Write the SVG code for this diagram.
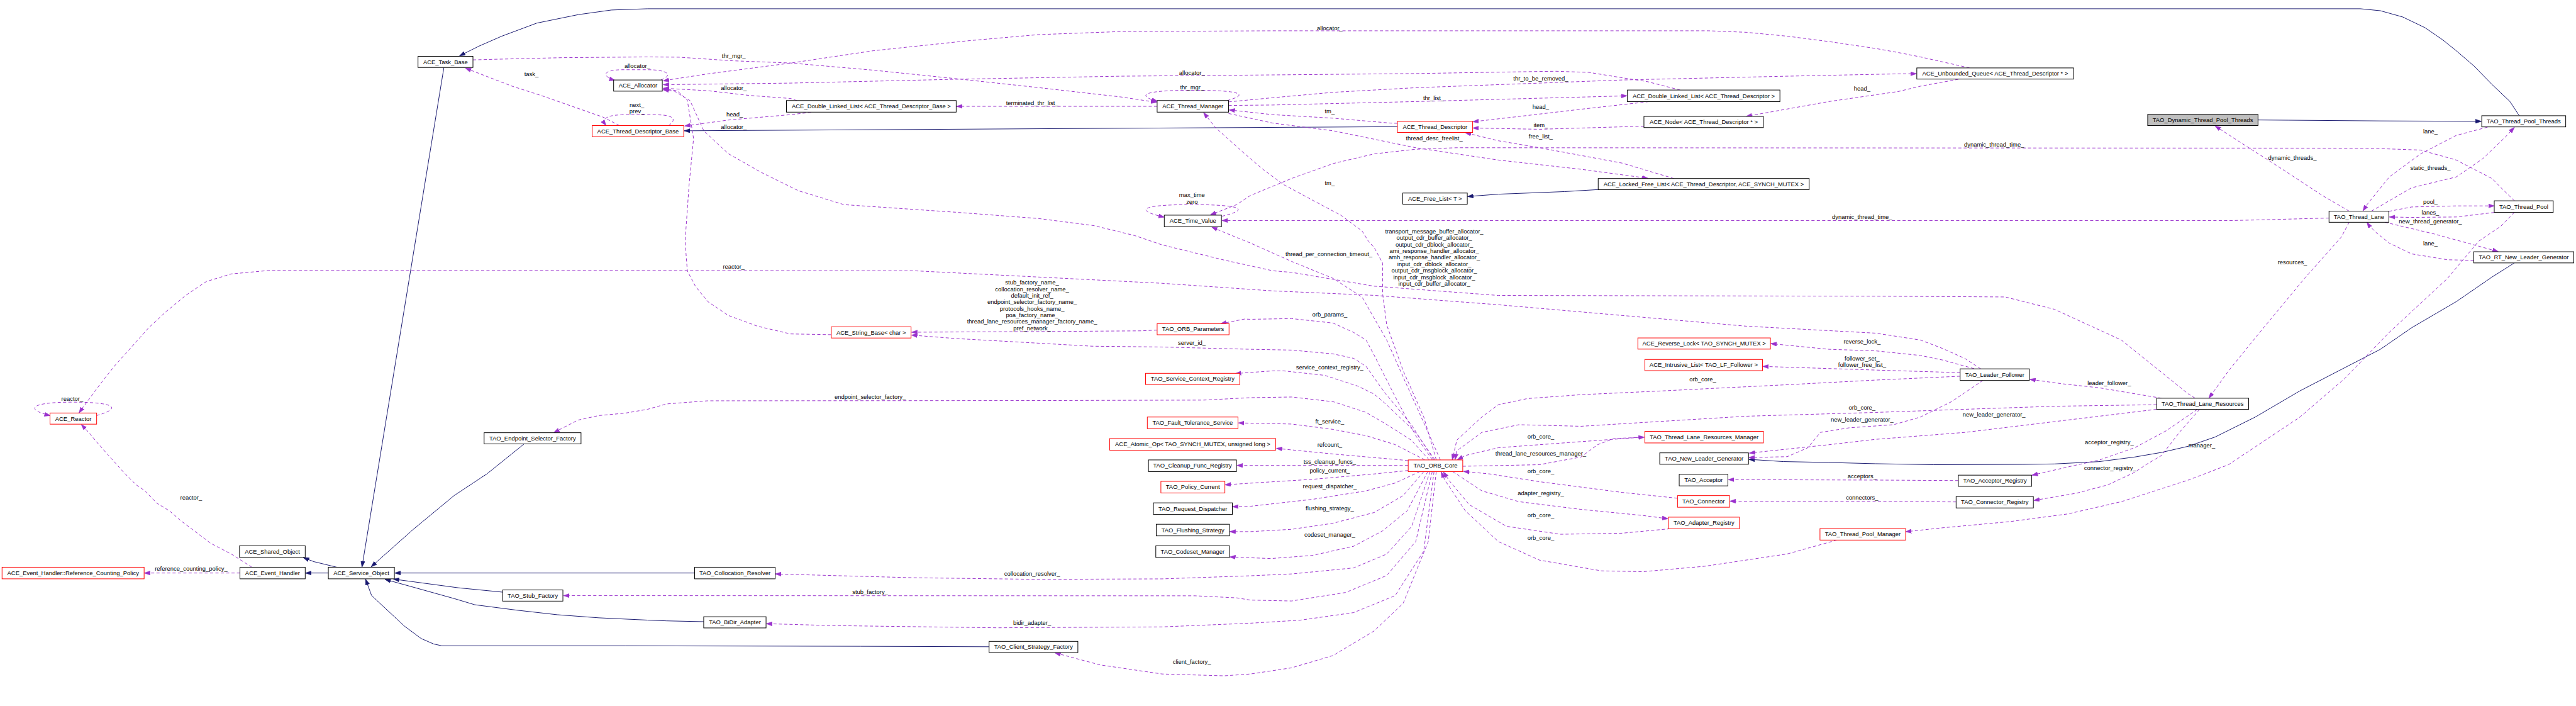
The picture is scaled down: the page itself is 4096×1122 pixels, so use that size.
<svg xmlns="http://www.w3.org/2000/svg" width="4096" height="1122" viewBox="0 0 4096 1122">
<style>
.n rect{fill:#fff;stroke:#000;stroke-width:1.4}
.n.r rect{stroke:#f00}
.n.g rect{fill:#bfbfbf}
text{font-family:"Liberation Sans",Arial,sans-serif;font-size:13.3px;fill:#000;text-anchor:middle}
.d{fill:none;stroke:#9a32cd;stroke-width:1.4;stroke-dasharray:7,5;marker-end:url(#ap)}
.s{fill:none;stroke:#191970;stroke-width:1.4;marker-end:url(#an)}
</style>
<defs>
<marker id="ap" markerUnits="userSpaceOnUse" viewBox="0 0 14 10" markerWidth="14" markerHeight="10" refX="13" refY="5" orient="auto"><path d="M0,0.5 L13,5 L0,9.5 z" fill="#9a32cd" stroke="#9a32cd" stroke-width="1"/></marker>
<marker id="an" markerUnits="userSpaceOnUse" viewBox="0 0 14 10" markerWidth="14" markerHeight="10" refX="13" refY="5" orient="auto"><path d="M0,0.5 L13,5 L0,9.5 z" fill="#191970" stroke="#191970" stroke-width="1"/></marker>
</defs>
<rect width="4096" height="1122" fill="#fff"/>
<g transform="scale(0.71012)">
<g id="edges">
<path class="s" d="M5641,259 L5620,227 L5580,189 L5540,148 L5500,113.6 L5470,89.5 L5430,62 L5380,38 L5330,24 L5285,19.6 L1450,19.6 L1369,22.4 L1295,32.7 L1202,51.7 L1123.5,81 L1073,103 L1029,125"/>
<path class="s" d="M5056,268.5 L5125,269 L5330,270.6 L5556,271.5"/>
<path class="s" d="M994,151 L810.5,1269"/>
<path class="s" d="M3129,283.5 L1532,292.7"/>
<path class="s" d="M3578.6,424.3 L3503,428.8 L3355,434.6 L3286,439.8"/>
<path class="s" d="M5630,588.5 L5580,620 L5500,675 L5400,733.5 L5330,781.7 L5250,823 L5150,874.7 L5050,933.3 L4960,978 L4900,998.7 L4840,1012.5 L4780,1022.8 L4700,1033.1 L4600,1038.3 L4530,1039.3 L4330,1040 L4200,1037.8 L4095,1035 L3993,1033 L3916,1028"/>
<path class="s" d="M735.2,1282.4 L684,1282.4"/>
<path class="s" d="M754,1269.4 L703,1257 L679,1248"/>
<path class="s" d="M1174,993.2 L1091,1060 L1017,1109 L925,1185 L831,1268.5"/>
<path class="s" d="M1555.4,1282.4 L884,1282.4"/>
<path class="s" d="M1125.4,1325.2 L1026.4,1315.5 L881,1296"/>
<path class="s" d="M1575.7,1391.3 L1492.5,1389.5 L1450,1387.8 L1341,1382.7 L1248,1375.8 L1156,1365.4 L1063,1353.4 L1017,1339.6 L943,1319 L862,1296.5"/>
<path class="s" d="M2214.7,1447.4 L1927,1446.4 L1400,1445.3 L989.5,1445.3 L971,1441.2 L943,1429 L906,1401.6 L869,1367.2 L832,1332.7 L818.5,1296"/>

<path class="d" d="M1387,281 L1350,262 L1211,213.5 L1147,193 L1042,152.5"/>
<path class="d" d="M1059,134 L1110,132.6 L1258,129.1 L1450,127.4 L1520,128 L1640,136 L1770,141 L1955,157 L2140,176 L2325,196 L2510,217 L2590,229"/>
<path class="d" d="M2748,225 C2795,212 2785,202 2670,202 C2555,202 2545,214 2592,227"/>
<path class="d" d="M1480,179 C1510,167 1492,156 1450,156 L1392,156 C1345,157 1350,172 1377,180"/>
<path class="d" d="M1497,281 C1516,268 1510,257 1470,257 L1392,257 C1350,258 1349,270 1357,281"/>
<path class="d" d="M1784,225 L1770,220.4 L1677,213.5 L1585,203 L1485,197.5"/>
<path class="d" d="M1816,251.4 L1770,256.6 L1631,268.6 L1533,282"/>
<path class="d" d="M2591,238 L2142,238"/>
<path class="d" d="M4410,152 L4300,127.4 L4250,117.5 L4200,108.5 L4095,93 L4002,81 L3910,72.3 L3826,68.9 L2850,68.9 L2510,70.6 L2325,77.5 L2167,91.3 L1955,113.6 L1770,141.2 L1585,165.3 L1506,177.4 L1485,181"/>
<path class="d" d="M3762,201.5 L3688,182.5 L3632,174 L3558,162 L3484,159.5 L3447,160 L3170,164.6 L2800,168.1 L2510,170.5 L2140,177.4 L1770,186 L1485,189.5"/>
<path class="d" d="M2751,228 L2850,218.7 L2985,206.6 L3170,196.3 L3447,186 L3632,179 L4002,170.5 L4250,165.3 L4291,165"/>
<path class="d" d="M2751,236 L2850,235 L3170,227.3 L3643,214.5"/>
<path class="d" d="M3129,276 L3114,275.5 L2985,264.5 L2850,256.6 L2752,246"/>
<path class="d" d="M2751,254 L2850,275.5 L2985,292.7 L3170,330.6 L3355,358.2 L3540,378.8 L3690,399"/>
<path class="d" d="M3692,227.5 L3540,244.5 L3392,261.7 L3298,272.5"/>
<path class="d" d="M3681,282.4 L3447,289.3 L3355,287.6 L3298,286.5"/>
<path class="d" d="M3748,399.5 L3632,365 L3447,330.6 L3355,315 L3281,297"/>
<path class="d" d="M4385,177.4 L4300,192.9 L4250,204.9 L4095,227.3 L3910,260.4"/>
<path class="d" d="M5260,472.5 L5200,437.4 L5100,371.9 L5030,327.2 L4960,282"/>
<path class="d" d="M5570,284.5 L5500,303 L5420,344.4 L5350,396 L5300,458 L5291,472"/>
<path class="d" d="M5310,472.5 L5400,420.2 L5500,396 L5560,354.7 L5610,306.5 L5630,285"/>
<path class="d" d="M5630,449.4 L5600,420 L5580,399.5 L5500,358.2 L5420,335.8 L5300,331.6 L3262,330.6 L3170,334 L3077,344.4 L2985,366 L2892,399.5 L2800,437.4 L2769,458 L2710,481"/>
<path class="d" d="M5215,488 L5070,491.8 L5000,493.5 L2736,493.5"/>
<path class="d" d="M2736,484 C2795,470 2790,458 2667,458 C2545,458 2545,472 2607,486"/>
<path class="d" d="M5349,473 L5400,463.2 L5500,460.8 L5585,460.8"/>
<path class="d" d="M5585,475.5 L5500,485.6 L5400,486.6 L5350,485.6"/>
<path class="d" d="M5340,497.3 L5450,523.5 L5500,537.2 L5594,563"/>
<path class="d" d="M5539,582.7 L5480,581.3 L5400,568.2 L5350,544.1 L5320,520 L5305,505 L5300,497.5"/>
<path class="d" d="M5260,497.3 L5243,530 L5160,623.3 L5060,743.8 L4990,830 L4946,891"/>
<path class="d" d="M5630,475.3 L5600,506 L5550,540 L5480,623.3 L5350,743.8 L5250,847.2 L5150,933.3 L5050,1000 L4990,1040 L4900,1074.4 L4750,1122.7 L4630,1150.2 L4500,1167.4 L4350,1181.2 L4267,1190"/>
<path class="d" d="M4840,891.2 L4700,867.8 L4620,859.2 L4545,849"/>
<path class="d" d="M4829,916 L4600,943.6 L4400,967.7 L4200,983.2 L4095,995.3 L3917,1014"/>
<path class="d" d="M4440,851.3 L4370,898.8 L4300,933.3 L4240,950.5 L4141,957.4 L4076,967.7 L4048,1002 L4002,1022 L3916,1024"/>
<path class="d" d="M4389,842 L4200,850.6 L4002,861 L3725,874.7 L3540,883.3 L3420,892 L3355,905.7 L3318,933.3 L3262,985 L3252,1029"/>
<path class="d" d="M4420,825 L4350,805.8 L4300,795.5 L4200,785.2 L4095,781.7 L3965,769"/>
<path class="d" d="M4389,834 L4200,828.2 L3947,820"/>
<path class="d" d="M4435,825.5 L4400,802.4 L4350,780 L4300,761 L4200,745.6 L3910,730 L3632,706 L3355,682 L3077,661 L2850,651 L2602,634 L2325,620 L2047,606 L1400,605.4 L601,605.4 L518,613 L462,630 L416,661 L370,699 L333,733.5 L296,775 L259,816 L231,851 L213,875 L185,912.6 L177,924"/>
<path class="d" d="M216,930 C270,915 265,900 162,900 C60,900 60,918 112.5,930"/>
<path class="d" d="M564,1269.4 L518,1240 L472,1216 L435,1188 L407,1167 L379,1143 L351,1126 L324,1098 L305,1085 L277,1057 L259,1037 L240,1016 L213,985 L199,968 L182,950"/>
<path class="d" d="M537.3,1282.4 L323,1282.4"/>
<path class="d" d="M1861,749 L1770,747.3 L1696,730 L1631,706 L1585,675 L1557,640.5 L1539,606 L1534,540 L1543,413 L1553,310 L1539,224 L1516,203 L1485,199"/>
<path class="d" d="M4915,891 L4900,881.6 L4750,761 L4600,692.2 L4490,664.6 L4200,662.9 L3355,661.2 L3077,640.5 L2892,609.5 L2850,606 L2741,582 L2602,548 L2540,527 L2450,505 L2325,489 L2140,475 L1890,458 L1788,427 L1705,386 L1631,344 L1576,293 L1545,225 L1510,204 L1485,201"/>
<path class="d" d="M3225,1029 L3198,968 L3151,864 L3105,761 L3050,665 L2985,623 L2892,585 L2800,544 L2741,520 L2713,508"/>
<path class="d" d="M3216,1029 L3188,933 L3142,830 L3105,727 L3096,658 L3096,589 L3077,554 L3064,540 L3050,517 L3003,482 L2939,448 L2874,413 L2828,379 L2787,344 L2722,286 L2695,252"/>
<path class="d" d="M3207,1029 L3170,975 L3120,880 L3077,795 L3059,761 L3031,744 L2985,723 L2892,713 L2800,714.6 L2787,714 L2733,724.5"/>
<path class="d" d="M3210,1029 L3160,950 L3100,878 L3059,820 L3031,802 L2985,792 L2892,783.5 L2800,781.7 L2602,776.6 L2445,774.8 L2325,768 L2140,757.6 L2041,750"/>
<path class="d" d="M2591,738.7 L2556,740.4 L2325,742 L2041,743.5"/>
<path class="d" d="M3213,1029 L3170,968 L3130,930 L3105,906 L3077,882 L3040,864 L2966,840 L2874,830 L2850,830 L2766,836"/>
<path class="d" d="M3200,1029 L3160,985 L3105,950 L3059,923 L2985,899 L2892,888.5 L2800,890 L2695,895.4 L2325,896.4 L1585,897 L1492.5,904 L1450,916 L1400,924.6 L1341,930 L1295,940 L1240,968"/>
<path class="d" d="M3190,1029 L3124,995 L3059,975 L2985,961 L2892,949 L2800,947 L2773,946.5"/>
<path class="d" d="M3153,1031 L3142,1029.7 L2985,1016 L2858,1003.5"/>
<path class="d" d="M3153,1041.7 L2769.5,1041.7"/>
<path class="d" d="M3153,1053 L3077,1060.7 L2939,1072.7 L2800,1081.3 L2743,1085"/>
<path class="d" d="M3179,1055.5 L3124,1081 L3059,1098.5 L2939,1117.5 L2800,1133 L2760,1134"/>
<path class="d" d="M3188,1055.5 L3142,1109 L3077,1147 L2985,1171 L2892,1184.6 L2800,1189.8 L2753.5,1189.8"/>
<path class="d" d="M3197,1055.5 L3151,1143 L3096,1188 L3031,1222.5 L2939,1243 L2846,1250 L2753.5,1246.5"/>
<path class="d" d="M3202,1055.5 L3161,1178 L3105,1240 L3031,1271 L2892,1284.5 L2800,1288.6 L2602,1295.5 L2325,1296.6 L2047,1293 L1862,1288 L1736,1284.5"/>
<path class="d" d="M3207,1055.5 L3170,1212 L3105,1288 L3013,1326 L2892,1345 L2800,1343 L2769,1338 L2676,1333.4 L1262,1333"/>
<path class="d" d="M3211,1055.5 L3188,1233 L3124,1333 L3031,1371 L2911,1388 L2800,1394.7 L2602,1403 L2232,1405 L1862,1400 L1716,1395.8"/>
<path class="d" d="M3216,1055.5 L3198,1212 L3142,1350 L3077,1412 L2985,1467 L2892,1494.6 L2800,1508.4 L2741,1512.5 L2602,1508.4 L2463,1488 L2362,1461"/>
<path class="d" d="M4829,905.7 L4600,909.2 L4400,916 L4200,923 L3910,931.5 L3540,954 L3401,950.5 L3318,967.7 L3262,1009 L3258,1029"/>
<path class="d" d="M3683,978 L3540,988.4 L3355,1002 L3281,1019.4 L3263,1029"/>
<path class="d" d="M3275.3,1043.5 L3447,1040 L3540,1022.8 L3577,995.3 L3614,981.5 L3682,978.5"/>
<path class="d" d="M3756,1115 L3632,1102 L3447,1078 L3336,1060.7 L3277,1055"/>
<path class="d" d="M3253,1055.5 L3318,1098.5 L3401,1122.7 L3540,1140 L3678.5,1153.6 L3735,1161"/>
<path class="d" d="M3740,1183.3 L3632,1193.3 L3494,1195.7 L3373,1177.8 L3290,1129.5 L3244,1074.4 L3232,1056"/>
<path class="d" d="M4113,1208.7 L4002,1239.7 L3817,1267.3 L3678.5,1279.4 L3586,1277.6 L3447,1253.5 L3355,1212 L3281,1143 L3235,1074 L3227,1056"/>
<path class="d" d="M4385,1075.5 L4200,1074.4 L3870,1073.4"/>
<path class="d" d="M4380,1123.3 L4260,1122.7 L4200,1122 L3873.5,1121.6"/>
<path class="d" d="M4920,916.4 L4850,964.3 L4780,1002 L4700,1029.7 L4645,1041.7 L4550,1063.5"/>
<path class="d" d="M4925,916.4 L4880,967.7 L4840,1019.4 L4805,1040 L4780,1057 L4720,1085 L4650,1103.7 L4554,1120"/>
</g>
<g id="edge-labels">
<text x="1190" y="170">task_</text>
<text x="1427" y="152.7">allocator_</text>
<text x="1426" y="239.9">next_</text>
<text x="1426" y="253.3">prev_</text>
<text x="1643" y="129.4">thr_mgr_</text>
<text x="1643" y="201.7">allocator_</text>
<text x="1645" y="260.2">head_</text>
<text x="1643" y="288.1">allocator_</text>
<text x="2311" y="235.4">terminated_thr_list_</text>
<text x="2669" y="167.3">allocator_</text>
<text x="2669" y="200">thr_mgr_</text>
<text x="2669" y="440.3">max_time</text>
<text x="2669" y="455.8">zero</text>
<text x="2977.5" y="67.7">allocator_</text>
<text x="3450" y="180.7">thr_to_be_removed_</text>
<text x="3210" y="224.1">thr_list_</text>
<text x="3450" y="243.4">head_</text>
<text x="2977.5" y="253.7">tm_</text>
<text x="3450" y="284.3">item_</text>
<text x="3211.5" y="313.6">thread_desc_freelist_</text>
<text x="3450" y="309.5">free_list_</text>
<text x="4169.5" y="203.4">head_</text>
<text x="2977.5" y="413.8">tm_</text>
<text x="4169.5" y="489.6">dynamic_thread_time_</text>
<text x="3211.5" y="522">transport_message_buffer_allocator_</text>
<text x="3211.5" y="536.7">output_cdr_buffer_allocator_</text>
<text x="3211.5" y="551.4">output_cdr_dblock_allocator_</text>
<text x="3211.5" y="566.1">ami_response_handler_allocator_</text>
<text x="3211.5" y="580.8">amh_response_handler_allocator_</text>
<text x="3211.5" y="595.5">input_cdr_dblock_allocator_</text>
<text x="3211.5" y="610.2">output_cdr_msgblock_allocator_</text>
<text x="3211.5" y="624.9">input_cdr_msgblock_allocator_</text>
<text x="3211.5" y="639.6">input_cdr_buffer_allocator_</text>
<text x="2975.7" y="573.6">thread_per_connection_timeout_</text>
<text x="2977.5" y="707.9">orb_params_</text>
<text x="2977.5" y="826">service_context_registry_</text>
<text x="2977.5" y="947.3">ft_service_</text>
<text x="2977.5" y="1000">refcount_</text>
<text x="2977.5" y="1037.8">tss_cleanup_funcs_</text>
<text x="2977.5" y="1057.8">policy_current_</text>
<text x="4169.5" y="768.5">reverse_lock_</text>
<text x="4169.5" y="807.1">follower_set_</text>
<text x="4169.5" y="820.9">follower_free_list_</text>
<text x="3812.6" y="853.6">orb_core_</text>
<text x="4169.5" y="917.3">orb_core_</text>
<text x="4169.5" y="943.8">new_leader_generator_</text>
<text x="3450" y="981">orb_core_</text>
<text x="3450" y="1019.6">thread_lane_resources_manager_</text>
<text x="3450" y="1059.5">orb_core_</text>
<text x="2977.5" y="1092.9">request_dispatcher_</text>
<text x="2977.5" y="1141.8">flushing_strategy_</text>
<text x="2977.5" y="1200.7">codeset_manager_</text>
<text x="3450" y="1107.7">adapter_registry_</text>
<text x="3450" y="1157.7">orb_core_</text>
<text x="3450" y="1207.6">orb_core_</text>
<text x="4169.5" y="1069.8">acceptors_</text>
<text x="4169.5" y="1117.7">connectors_</text>
<text x="4725" y="1051.6">connector_registry_</text>
<text x="5442" y="548.8">lane_</text>
<text x="5133" y="591.9">resources_</text>
<text x="4723" y="861.5">leader_follower_</text>
<text x="4465" y="932.8">new_leader_generator_</text>
<text x="4723" y="993.7">acceptor_registry_</text>
<text x="4930" y="1001">manager_</text>
<text x="4465" y="328.4">dynamic_thread_time_</text>
<text x="5442" y="299.1">lane_</text>
<text x="5133" y="357.7">dynamic_threads_</text>
<text x="5442" y="380.8">static_threads_</text>
<text x="5442" y="455.8">pool_</text>
<text x="5442" y="480.6">lanes_</text>
<text x="5442" y="499.6">new_thread_generator_</text>
<text x="161.8" y="896.6">reactor_</text>
<text x="1643" y="601.8">reactor_</text>
<text x="2311" y="636.6">stub_factory_name_</text>
<text x="2311" y="651.4">collocation_resolver_name_</text>
<text x="2311" y="665.9">default_init_ref_</text>
<text x="2311" y="680.7">endpoint_selector_factory_name_</text>
<text x="2311" y="695.5">protocols_hooks_name_</text>
<text x="2311" y="710">poa_factory_name_</text>
<text x="2311" y="724.4">thread_lane_resources_manager_factory_name_</text>
<text x="2311" y="739.9">pref_network_</text>
<text x="2668.7" y="772">server_id_</text>
<text x="1948.4" y="892.5">endpoint_selector_factory_</text>
<text x="428" y="1117.7">reactor_</text>
<text x="428" y="1277.9">reference_counting_policy_</text>
<text x="2311" y="1288.5">collocation_resolver_</text>
<text x="1948.4" y="1329.5">stub_factory_</text>
<text x="2311" y="1398.7">bidir_adapter_</text>
<text x="2668.7" y="1485.5">client_factory_</text>
</g>
<g id="n_ACE_Task_Base" class="n"><rect x="936" y="126" width="123" height="25"/><text x="997.5" y="143.1">ACE_Task_Base</text></g>
<g id="n_ACE_Allocator" class="n"><rect x="1374" y="179" width="109" height="25"/><text x="1428.5" y="196.1">ACE_Allocator</text></g>
<g id="n_ACE_Thread_Descriptor_Base" class="n r"><rect x="1326" y="281" width="205" height="25"/><text x="1428.5" y="298.1">ACE_Thread_Descriptor_Base</text></g>
<g id="n_DLL_Base" class="n"><rect x="1761" y="225" width="380" height="26"/><text x="1951" y="242.6">ACE_Double_Linked_List&lt; ACE_Thread_Descriptor_Base &gt;</text></g>
<g id="n_ACE_Thread_Manager" class="n"><rect x="2591" y="225" width="160" height="26"/><text x="2671" y="242.6">ACE_Thread_Manager</text></g>
<g id="n_ACE_Time_Value" class="n"><rect x="2607" y="481.5" width="128" height="26"/><text x="2671" y="499.1">ACE_Time_Value</text></g>
<g id="n_DLL_Desc" class="n"><rect x="3644" y="201.5" width="341.5" height="26"/><text x="3814.75" y="219.1">ACE_Double_Linked_List&lt; ACE_Thread_Descriptor &gt;</text></g>
<g id="n_ACE_Node" class="n"><rect x="3681" y="260.5" width="267.5" height="25"/><text x="3814.75" y="277.6">ACE_Node&lt; ACE_Thread_Descriptor * &gt;</text></g>
<g id="n_ACE_Thread_Descriptor" class="n r"><rect x="3129" y="271.5" width="168.5" height="25"/><text x="3213.25" y="288.6">ACE_Thread_Descriptor</text></g>
<g id="n_ACE_Locked_Free_List" class="n"><rect x="3578.6" y="399.5" width="472.4" height="25"/><text x="3814.8" y="416.6">ACE_Locked_Free_List&lt; ACE_Thread_Descriptor, ACE_SYNCH_MUTEX &gt;</text></g>
<g id="n_ACE_Free_List" class="n"><rect x="3141" y="432" width="144.5" height="25"/><text x="3213.25" y="449.1">ACE_Free_List&lt; T &gt;</text></g>
<g id="n_ACE_Unbounded_Queue" class="n"><rect x="4292" y="152" width="351" height="25"/><text x="4467.5" y="169.1">ACE_Unbounded_Queue&lt; ACE_Thread_Descriptor * &gt;</text></g>
<g id="n_TAO_Dynamic_Thread_Pool_Threads" class="n g"><rect x="4809" y="256" width="247" height="25"/><text x="4932.5" y="273.1">TAO_Dynamic_Thread_Pool_Threads</text></g>
<g id="n_TAO_Thread_Pool_Threads" class="n"><rect x="5557" y="259" width="188" height="25"/><text x="5651" y="276.1">TAO_Thread_Pool_Threads</text></g>
<g id="n_TAO_Thread_Pool" class="n"><rect x="5585" y="449.4" width="132" height="26"/><text x="5651" y="467">TAO_Thread_Pool</text></g>
<g id="n_TAO_Thread_Lane" class="n"><rect x="5215" y="472.5" width="134" height="25"/><text x="5282" y="489.6">TAO_Thread_Lane</text></g>
<g id="n_TAO_RT_New_Leader_Generator" class="n"><rect x="5539" y="563.4" width="224" height="25"/><text x="5651" y="580.5">TAO_RT_New_Leader_Generator</text></g>
<g id="n_TAO_Leader_Follower" class="n"><rect x="4389" y="825.5" width="155" height="26"/><text x="4466.5" y="843.1">TAO_Leader_Follower</text></g>
<g id="n_TAO_Thread_Lane_Resources" class="n"><rect x="4829" y="891.2" width="206" height="25"/><text x="4932" y="908.3">TAO_Thread_Lane_Resources</text></g>
<g id="n_ACE_Reactor" class="n r"><rect x="112" y="924.3" width="104.4" height="25"/><text x="164.2" y="941.4">ACE_Reactor</text></g>
<g id="n_TAO_Endpoint_Selector_Factory" class="n"><rect x="1084" y="968.4" width="217" height="25"/><text x="1192.5" y="985.5">TAO_Endpoint_Selector_Factory</text></g>
<g id="n_ACE_String_Base" class="n r"><rect x="1861.4" y="731.5" width="178.6" height="25"/><text x="1950.7" y="748.6">ACE_String_Base&lt; char &gt;</text></g>
<g id="n_TAO_ORB_Parameters" class="n r"><rect x="2591" y="724.2" width="161" height="25"/><text x="2671.5" y="741.3">TAO_ORB_Parameters</text></g>
<g id="n_TAO_Service_Context_Registry" class="n r"><rect x="2565" y="835.5" width="211" height="25"/><text x="2670.5" y="852.6">TAO_Service_Context_Registry</text></g>
<g id="n_TAO_Fault_Tolerance_Service" class="n r"><rect x="2569" y="933.3" width="203" height="26"/><text x="2670.5" y="950.9">TAO_Fault_Tolerance_Service</text></g>
<g id="n_ACE_Atomic_Op" class="n r"><rect x="2484.7" y="981.5" width="371.7" height="26"/><text x="2670.55" y="999.1">ACE_Atomic_Op&lt; TAO_SYNCH_MUTEX, unsigned long &gt;</text></g>
<g id="n_TAO_Cleanup_Func_Registry" class="n"><rect x="2571.6" y="1029.3" width="197" height="26"/><text x="2670.1" y="1046.9">TAO_Cleanup_Func_Registry</text></g>
<g id="n_TAO_Policy_Current" class="n r"><rect x="2599.4" y="1077.2" width="143.3" height="26"/><text x="2671" y="1094.8">TAO_Policy_Current</text></g>
<g id="n_TAO_Request_Dispatcher" class="n"><rect x="2582.7" y="1125.4" width="176.7" height="26"/><text x="2671" y="1143">TAO_Request_Dispatcher</text></g>
<g id="n_TAO_Flushing_Strategy" class="n"><rect x="2589" y="1173.3" width="164" height="26"/><text x="2671" y="1190.9">TAO_Flushing_Strategy</text></g>
<g id="n_TAO_Codeset_Manager" class="n"><rect x="2588" y="1221.5" width="165" height="26"/><text x="2670.5" y="1239.1">TAO_Codeset_Manager</text></g>
<g id="n_TAO_Collocation_Resolver" class="n"><rect x="1555.4" y="1269.4" width="180.3" height="26"/><text x="1645.5" y="1287">TAO_Collocation_Resolver</text></g>
<g id="n_TAO_BiDir_Adapter" class="n"><rect x="1575.7" y="1380.3" width="139.6" height="25"/><text x="1645.5" y="1397.4">TAO_BiDir_Adapter</text></g>
<g id="n_TAO_Client_Strategy_Factory" class="n"><rect x="2214.7" y="1435.4" width="198.8" height="25"/><text x="2314.1" y="1452.5">TAO_Client_Strategy_Factory</text></g>
<g id="n_ACE_Shared_Object" class="n"><rect x="536.3" y="1221.5" width="147.1" height="26"/><text x="609.85" y="1239.1">ACE_Shared_Object</text></g>
<g id="n_ACE_Event_Handler" class="n"><rect x="537.3" y="1269.4" width="146.1" height="26"/><text x="610.35" y="1287">ACE_Event_Handler</text></g>
<g id="n_ACE_Service_Object" class="n"><rect x="735.2" y="1269.4" width="147.9" height="26"/><text x="809.15" y="1287">ACE_Service_Object</text></g>
<g id="n_Reference_Counting_Policy" class="n r"><rect x="4.6" y="1269.4" width="318.1" height="26"/><text x="163.65" y="1287">ACE_Event_Handler::Reference_Counting_Policy</text></g>
<g id="n_TAO_Stub_Factory" class="n"><rect x="1125.4" y="1320.3" width="135" height="25"/><text x="1192.9" y="1337.4">TAO_Stub_Factory</text></g>
<g id="n_ACE_Reverse_Lock" class="n r"><rect x="3667.4" y="756.3" width="296.8" height="25"/><text x="3815.8" y="773.4">ACE_Reverse_Lock&lt; TAO_SYNCH_MUTEX &gt;</text></g>
<g id="n_ACE_Intrusive_List" class="n r"><rect x="3683" y="804.5" width="263.6" height="25"/><text x="3814.8" y="821.6">ACE_Intrusive_List&lt; TAO_LF_Follower &gt;</text></g>
<g id="n_TAO_Thread_Lane_Resources_Manager" class="n r"><rect x="3683" y="965.3" width="265.5" height="26"/><text x="3815.75" y="982.9">TAO_Thread_Lane_Resources_Manager</text></g>
<g id="n_TAO_New_Leader_Generator" class="n"><rect x="3716.4" y="1013.5" width="198.8" height="25.5"/><text x="3815.8" y="1030.85">TAO_New_Leader_Generator</text></g>
<g id="n_TAO_ORB_Core" class="n r"><rect x="3153.2" y="1029.3" width="122.1" height="26"/><text x="3214.25" y="1046.9">TAO_ORB_Core</text></g>
<g id="n_TAO_Acceptor" class="n"><rect x="3760" y="1061.4" width="109" height="26"/><text x="3814.5" y="1079">TAO_Acceptor</text></g>
<g id="n_TAO_Connector" class="n r"><rect x="3756.2" y="1109.2" width="116.5" height="26"/><text x="3814.45" y="1126.8">TAO_Connector</text></g>
<g id="n_TAO_Adapter_Registry" class="n r"><rect x="3735.8" y="1157.4" width="159" height="26"/><text x="3815.3" y="1175">TAO_Adapter_Registry</text></g>
<g id="n_TAO_Thread_Pool_Manager" class="n r"><rect x="4075.2" y="1183" width="191.8" height="25.7"/><text x="4171.1" y="1200.45">TAO_Thread_Pool_Manager</text></g>
<g id="n_TAO_Acceptor_Registry" class="n"><rect x="4385" y="1063.4" width="164" height="25"/><text x="4467" y="1080.5">TAO_Acceptor_Registry</text></g>
<g id="n_TAO_Connector_Registry" class="n"><rect x="4380" y="1111.3" width="173" height="25.5"/><text x="4466.5" y="1128.65">TAO_Connector_Registry</text></g>
</g>
</svg>
